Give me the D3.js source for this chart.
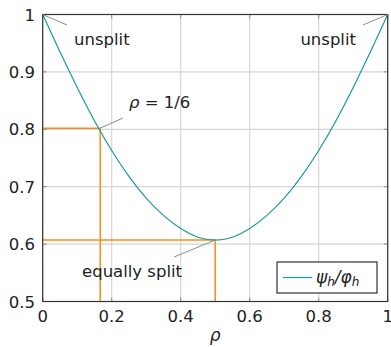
<!DOCTYPE html>
<html lang="en">
<head>
<meta charset="UTF-8">
<title>psi/phi ratio</title>
<script src="https://cdn.jsdelivr.net/npm/d3@7"></script>
<style>
    body { margin: 0; background: #fff; }
    svg { display: block; font-family: "DejaVu Sans", sans-serif; }
</style>
</head>
<body>
<svg width="391" height="347"></svg>
<script>
    // values
    var rho   = [0, 0.05, 0.1, 0.15, 0.2, 0.25, 0.3, 0.35, 0.4, 0.45, 0.5,
                 0.55, 0.6, 0.65, 0.7, 0.75, 0.8, 0.85, 0.9, 0.95, 1];
    var ratio = [1, 0.935, 0.873, 0.815, 0.763, 0.718, 0.680, 0.650, 0.627, 0.612, 0.607,
                 0.612, 0.627, 0.650, 0.680, 0.718, 0.763, 0.815, 0.873, 0.935, 1];
    var xTicks = [0, 0.2, 0.4, 0.6, 0.8, 1];
    var xTickLabels = ["0", "0.2", "0.4", "0.6", "0.8", "1"];
    var yTicks = [0.5, 0.6, 0.7, 0.8, 0.9, 1];
    var yTickLabels = ["0.5", "0.6", "0.7", "0.8", "0.9", "1"];
    var markRho = [1 / 6, 0.5];
    var markVal = [0.802, 0.607];

    var svg = d3.select("svg"),
        mL = 42.7, mT = 14.5, w = 345, h = 287;

    var x = d3.scaleLinear().domain([0, 1]).range([mL, mL + w]);
    var y = d3.scaleLinear().domain([0.5, 1]).range([mT + h, mT]);

    // grid
    var grid = svg.append("g");
    grid.selectAll(".gx").data(xTicks).enter().append("line")
        .attr("x1", function (d) { return x(d); })
        .attr("x2", function (d) { return x(d); })
        .attr("y1", mT).attr("y2", mT + h)
        .attr("stroke", "#d6d6d6").attr("stroke-width", 1.2);
    grid.selectAll(".gy").data(yTicks).enter().append("line")
        .attr("y1", function (d) { return y(d); })
        .attr("y2", function (d) { return y(d); })
        .attr("x1", mL).attr("x2", mL + w)
        .attr("stroke", "#d6d6d6").attr("stroke-width", 1.2);

    // small tick marks on all four sides
    var tk = svg.append("g").attr("stroke", "#8c8c8c").attr("stroke-width", 1);
    xTicks.forEach(function (d) {
        tk.append("line").attr("x1", x(d)).attr("x2", x(d)).attr("y1", mT + h).attr("y2", mT + h - 4);
        tk.append("line").attr("x1", x(d)).attr("x2", x(d)).attr("y1", mT).attr("y2", mT + 4);
    });
    yTicks.forEach(function (d) {
        tk.append("line").attr("y1", y(d)).attr("y2", y(d)).attr("x1", mL).attr("x2", mL + 4);
        tk.append("line").attr("y1", y(d)).attr("y2", y(d)).attr("x1", mL + w).attr("x2", mL + w - 4);
    });

    // orange helper lines
    var org = svg.append("g").attr("stroke", "#ff8c1a").attr("stroke-width", 1.5).attr("fill", "none");
    markRho.forEach(function (r, i) {
        org.append("path").attr("d", d3.line()([[x(0), y(markVal[i])], [x(r), y(markVal[i])], [x(r), y(0.5)]]));
    });

    // curve
    var pts = rho.map(function (r, i) { return [r, ratio[i]]; });
    svg.append("path")
        .datum(pts)
        .attr("fill", "none")
        .attr("stroke", "#1a9a9a")
        .attr("stroke-width", 1.2)
        .attr("d", d3.line()
            .x(function (d) { return x(d[0]); })
            .y(function (d) { return y(d[1]); })
            .curve(d3.curveNatural));

    // frame
    svg.append("rect").attr("x", mL).attr("y", mT).attr("width", w).attr("height", h)
        .attr("fill", "none").attr("stroke", "#333").attr("stroke-width", 1.2);

    // tick labels
    var ax = svg.append("g").attr("font-size", 16.5).attr("fill", "#222");
    xTicks.forEach(function (d, i) {
        ax.append("text").attr("x", x(d)).attr("y", 322).attr("text-anchor", "middle").text(xTickLabels[i]);
    });
    yTicks.forEach(function (d, i) {
        ax.append("text").attr("x", 35).attr("y", y(d) + 6).attr("text-anchor", "end").text(yTickLabels[i]);
    });
    svg.append("text").attr("x", x(0.5)).attr("y", 341).attr("text-anchor", "middle")
        .attr("font-size", 17).attr("font-style", "italic").attr("fill", "#222").text("ρ");

    // annotations
    var notes = [
        {px: 0, py: 1, lx: 67, ly: 25, tx: 74, ty: 45, anchor: "start", label: "unsplit"},
        {px: 1, py: 1, lx: 363, ly: 25, tx: 356, ty: 45, anchor: "end", label: "unsplit"},
        {px: markRho[0], py: markVal[0], lx: 123, ly: 118, tx: 129, ty: 108, anchor: "start", label: "ρ = 1/6"},
        {px: markRho[1], py: markVal[1], lx: 174, ly: 257, tx: 82, ty: 277, anchor: "start", label: "equally split"}
    ];
    var an = svg.append("g");
    notes.forEach(function (n) {
        an.append("line").attr("x1", x(n.px)).attr("y1", y(n.py)).attr("x2", n.lx).attr("y2", n.ly)
            .attr("stroke", "#8c8c8c").attr("stroke-width", 1);
        var t = an.append("text").attr("x", n.tx).attr("y", n.ty).attr("text-anchor", n.anchor)
            .attr("font-size", 16.5).attr("fill", "#222");
        if (n.label.indexOf("ρ") === 0) {
            t.append("tspan").attr("font-style", "italic").text("ρ");
            t.append("tspan").text(" = 1/6");
        } else {
            t.text(n.label);
        }
    });

    // legend
    var lg = svg.append("g");
    lg.append("rect").attr("x", 277).attr("y", 262).attr("width", 100).attr("height", 31)
        .attr("fill", "#fff").attr("stroke", "#333").attr("stroke-width", 1.2);
    lg.append("line").attr("x1", 283).attr("x2", 312).attr("y1", 277.5).attr("y2", 277.5)
        .attr("stroke", "#1a9a9a").attr("stroke-width", 1.2);
    var lt = lg.append("text").attr("x", 316).attr("y", 283).attr("font-size", 17)
        .attr("font-style", "italic").attr("fill", "#222");
    lt.append("tspan").text("ψ");
    lt.append("tspan").attr("font-size", 12).attr("dy", 3).text("h");
    lt.append("tspan").attr("dy", -3).text("/φ");
    lt.append("tspan").attr("font-size", 12).attr("dy", 3).text("h");
</script>
</body>
</html>
